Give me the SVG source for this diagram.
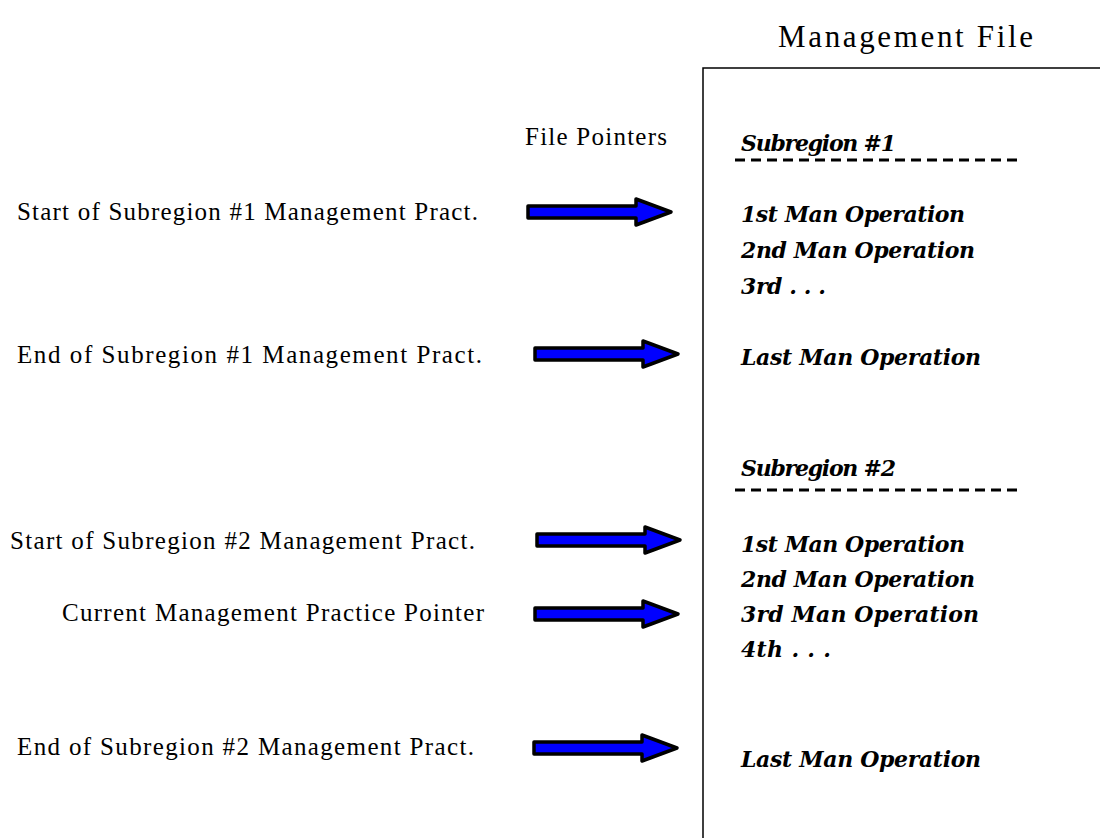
<svg xmlns="http://www.w3.org/2000/svg" width="1100" height="838" viewBox="0 0 1100 838">
<defs>
<style>
.lbl{font-family:"Liberation Serif","Times New Roman",serif;font-size:25px;fill:#000}
.ttl{font-family:"Liberation Serif","Times New Roman",serif;font-size:31px;fill:#000}
.it{font-family:"DejaVu Serif","Liberation Serif",serif;font-size:22px;font-style:italic;font-weight:bold;fill:#000}
.arr{fill:#0000ff;stroke:#000;stroke-width:3.5;stroke-linejoin:round}
.dash{stroke:#000;stroke-width:3;stroke-dasharray:10 6;fill:none}
</style>
<path id="arrow" d="M0,-6 H108 V-13 L143,0 L108,13 V6 H0 Z"/>
</defs>
<rect width="1100" height="838" fill="#fff"/>
<g id="file">
<path d="M703,840 V68 H1102" fill="none" stroke="#000" stroke-width="1.5"/>
<text class="ttl" x="778" y="47" textLength="255" lengthAdjust="spacing">Management File</text>
</g>
<g id="pointers-title"><text class="lbl" x="525" y="145" textLength="142" lengthAdjust="spacing">File Pointers</text></g>
<g id="sub1">
<text class="it" x="741" y="151" textLength="155" lengthAdjust="spacing">Subregion #1</text>
<line class="dash" x1="735" y1="160" x2="1020" y2="160"/>
<text class="it" x="741" y="222" textLength="224" lengthAdjust="spacing">1st Man Operation</text>
<text class="it" x="741" y="258" textLength="234" lengthAdjust="spacing">2nd Man Operation</text>
<text class="it" x="741" y="294" textLength="85" lengthAdjust="spacing">3rd . . .</text>
<text class="it" x="741" y="365" textLength="240" lengthAdjust="spacing">Last Man Operation</text>
</g>
<g id="sub2">
<text class="it" x="741" y="476" textLength="155" lengthAdjust="spacing">Subregion #2</text>
<line class="dash" x1="735" y1="490" x2="1020" y2="490"/>
<text class="it" x="741" y="552" textLength="224" lengthAdjust="spacing">1st Man Operation</text>
<text class="it" x="741" y="587" textLength="234" lengthAdjust="spacing">2nd Man Operation</text>
<text class="it" x="741" y="622" textLength="238" lengthAdjust="spacing">3rd  Man Operation</text>
<text class="it" x="741" y="657" textLength="90" lengthAdjust="spacing">4th  . . .</text>
<text class="it" x="741" y="767" textLength="240" lengthAdjust="spacing">Last Man Operation</text>
</g>
<g id="ptr1"><text class="lbl" x="17" y="220" textLength="461" lengthAdjust="spacing">Start of Subregion #1 Management Pract.</text></g>
<g id="ptr2"><text class="lbl" x="17" y="363" textLength="465" lengthAdjust="spacing">End of Subregion #1 Management Pract.</text></g>
<g id="ptr3"><text class="lbl" x="10" y="549" textLength="465" lengthAdjust="spacing">Start of Subregion #2 Management Pract.</text></g>
<g id="ptr4"><text class="lbl" x="62" y="621" textLength="422" lengthAdjust="spacing">Current Management Practice Pointer</text></g>
<g id="ptr5"><text class="lbl" x="17" y="755" textLength="457" lengthAdjust="spacing">End of Subregion #2 Management Pract.</text></g>
<g id="connectors">
<use href="#arrow" class="arr" x="528" y="212"/>
<use href="#arrow" class="arr" x="535" y="354"/>
<use href="#arrow" class="arr" x="537" y="540"/>
<use href="#arrow" class="arr" x="535" y="614"/>
<use href="#arrow" class="arr" x="534" y="748"/>
</g>
</svg>
